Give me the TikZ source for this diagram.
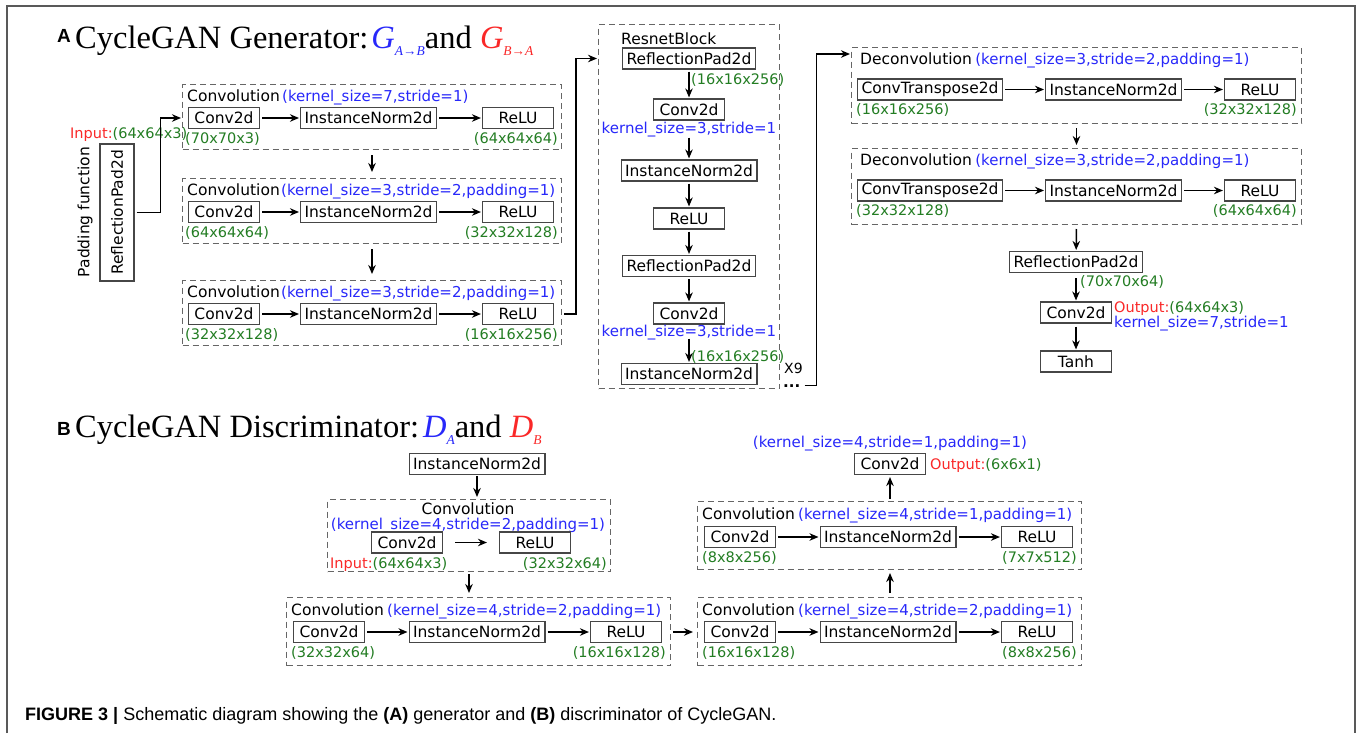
\documentclass[tikz,border=0pt]{standalone}
\usepackage{fontspec}
\setmainfont{DejaVu Sans}
\newfontfamily\ttlfont{Liberation Serif}
\newfontfamily\capfont{Liberation Sans}
\usepackage{tikz}
\usetikzlibrary{positioning, arrows.meta}
\definecolor{hpblue}{RGB}{40,40,250}
\definecolor{dimgreen}{RGB}{35,125,35}
\definecolor{iored}{RGB}{250,40,40}
\definecolor{edgegray}{RGB}{70,70,70}
\tikzset{
    layer/.style    = {draw=edgegray, line width=1.1pt, font=\fontsize{15.5}{17}\selectfont,
                       inner xsep=4pt, inner ysep=0pt, minimum height=21pt},
    sqlayer/.style  = {layer, minimum width=71pt},
    stage/.style    = {draw=black!60, line width=1pt, dash pattern=on 6pt off 4pt,
                       inner sep=0pt, anchor=north west},
    stagelbl/.style = {font=\fontsize{15.5}{17}\selectfont, inner sep=0pt},
    hparam/.style   = {text=hpblue, font=\fontsize{15}{16}\selectfont, inner sep=0pt},
    dims/.style     = {text=dimgreen, font=\fontsize{14.5}{16}\selectfont, inner sep=0pt},
    flow/.style     = {-{Stealth[length=9pt, width=7.5pt]}, line width=1.5pt,
                       shorten <=2pt, shorten >=1pt},
    heading/.style  = {font=\ttlfont\fontsize{32.5}{34}\selectfont, inner sep=0pt, anchor=base west},
    panel/.style    = {font=\capfont\bfseries\fontsize{19}{20}\selectfont, inner sep=0pt, anchor=base west},
}

\begin{document}
\begin{tikzpicture}[x=1pt, y=-1pt]
\fill[white] (0,0) rectangle (1361,733);
\draw[line width=1.3pt, black!65] (7,733) -- (7,6) -- (1355,6) -- (1355,733);

% ---- (A) generator
\node[panel] (pA) at (57,42) {A};
\node[heading] (hA) at (75,48) {CycleGAN Generator:\hspace{3pt}{\color{hpblue}\itshape G\raisebox{-7pt}{\fontsize{13.5}{13}\selectfont A→B}}and
    {\color{iored}\itshape G\raisebox{-7pt}{\fontsize{13.5}{13}\selectfont B→A}}};

\node[stagelbl, rotate=90] (padtxt) at (85,212) {Padding function};
\node[layer, rotate=90, minimum width=137pt, minimum height=34pt] (pad) at (117,212.5) {ReflectionPad2d};
\node[dims, anchor=base west] (gin) at (70,138) {\textcolor{iored}{Input:}(64x64x3)};

\node[stage, minimum width=379pt, minimum height=65pt] (gc1) at (182,84) {};
\node[stagelbl, anchor=base west] (gc1t) at (187,101) {Convolution};
\node[hparam, anchor=base west] (gc1k) at ([xshift=2pt]gc1t.base east) {(kernel\_size=7,stride=1)};
\node[sqlayer] (gc1a) at (224,118) {Conv2d};
\node[layer] (gc1b) at (368.5,118) {InstanceNorm2d};
\node[sqlayer] (gc1c) at (518,118) {ReLU};
\node[dims, anchor=base west] (gc1i) at (185,143) {(70x70x3)};
\node[dims, anchor=base east] (gc1o) at (558,143) {(64x64x64)};

\node[stage, minimum width=379pt, minimum height=65pt] (gc2) at (182,178) {};
\node[stagelbl, anchor=base west] (gc2t) at (187,195) {Convolution};
\node[hparam, anchor=base west] (gc2k) at ([xshift=1pt]gc2t.base east) {(kernel\_size=3,stride=2,padding=1)};
\node[sqlayer] (gc2a) at (224,212) {Conv2d};
\node[layer] (gc2b) at (368.5,212) {InstanceNorm2d};
\node[sqlayer] (gc2c) at (518,212) {ReLU};
\node[dims, anchor=base west] (gc2i) at (185,237) {(64x64x64)};
\node[dims, anchor=base east] (gc2o) at (558,237) {(32x32x128)};

\node[stage, minimum width=379pt, minimum height=65pt] (gc3) at (182,280) {};
\node[stagelbl, anchor=base west] (gc3t) at (187,297) {Convolution};
\node[hparam, anchor=base west] (gc3k) at ([xshift=1pt]gc3t.base east) {(kernel\_size=3,stride=2,padding=1)};
\node[sqlayer] (gc3a) at (224,314) {Conv2d};
\node[layer] (gc3b) at (368.5,314) {InstanceNorm2d};
\node[sqlayer] (gc3c) at (518,314) {ReLU};
\node[dims, anchor=base west] (gc3i) at (185,339) {(32x32x128)};
\node[dims, anchor=base east] (gc3o) at (558,339) {(16x16x256)};

\draw[flow] (pad.south) -- ++(26,0) |- (gc1a -| gc1.west);
\draw[flow, shorten <=5pt, shorten >=6pt] (gc1.south) -- (gc2.north);
\draw[flow, shorten <=5pt, shorten >=6pt] (gc2.south) -- (gc3.north);
\draw[flow] (gc1a) -- (gc1b);
\draw[flow] (gc1b) -- (gc1c);
\draw[flow] (gc2a) -- (gc2b);
\draw[flow] (gc2b) -- (gc2c);
\draw[flow] (gc3a) -- (gc3b);
\draw[flow] (gc3b) -- (gc3c);

% resnet block
\node[stage, minimum width=181pt, minimum height=364pt] (res) at (598,24) {};
\node[stagelbl, anchor=base west] (rest) at (621,44) {ResnetBlock};
\node[layer] (rb1) at (689,58.5) {ReflectionPad2d};
\node[sqlayer] (rb2) at (689,109.5) {Conv2d};
\node[layer] (rb3) at (689,170.5) {InstanceNorm2d};
\node[sqlayer] (rb4) at (689,218.5) {ReLU};
\node[layer] (rb5) at (689,266) {ReflectionPad2d};
\node[sqlayer] (rb6) at (689,313.5) {Conv2d};
\node[layer] (rb7) at (689,374) {InstanceNorm2d};
\node[dims, anchor=base west] (rb1o) at (691,84) {(16x16x256)};
\node[hparam, anchor=base] (rb2k) at (689,133) {kernel\_size=3,stride=1};
\node[hparam, anchor=base] (rb6k) at (689,336) {kernel\_size=3,stride=1};
\node[dims, anchor=base west] (rb6o) at (691,361) {(16x16x256)};
\node[font=\fontsize{14}{16}\selectfont, inner sep=0pt, anchor=base west] (rep) at (784,373) {X9};
\node[font=\bfseries\fontsize{15}{15}\selectfont, inner sep=0pt, anchor=base west] (dots) at (783,387) {...};

\draw[flow] (gc3c -| gc3.east) -- ++(14,0) |- (rb1 -| res.west);
\draw[flow] (rb1) -- (rb2);
\draw[flow, shorten <=17pt] (rb2) -- (rb3);
\draw[flow] (rb3) -- (rb4);
\draw[flow] (rb4) -- (rb5);
\draw[flow] (rb5) -- (rb6);
\draw[flow, shorten <=14pt] (rb6) -- (rb7);

% deconvolution
\node[stage, minimum width=450pt, minimum height=76pt] (dc1) at (851,47) {};
\node[stagelbl, anchor=base west] (dc1t) at (860,64) {Deconvolution};
\node[hparam, anchor=base west] (dc1k) at ([xshift=3pt]dc1t.base east) {(kernel\_size=3,stride=2,padding=1)};
\node[layer] (dc1a) at (930,89.5) {ConvTranspose2d};
\node[layer] (dc1b) at (1113.5,89.5) {InstanceNorm2d};
\node[sqlayer] (dc1c) at (1260,89.5) {ReLU};
\node[dims, anchor=base west] (dc1i) at (856,114) {(16x16x256)};
\node[dims, anchor=base east] (dc1o) at (1297,114) {(32x32x128)};

\node[stage, minimum width=450pt, minimum height=76pt] (dc2) at (851,148) {};
\node[stagelbl, anchor=base west] (dc2t) at (860,165) {Deconvolution};
\node[hparam, anchor=base west] (dc2k) at ([xshift=3pt]dc2t.base east) {(kernel\_size=3,stride=2,padding=1)};
\node[layer] (dc2a) at (930,190.5) {ConvTranspose2d};
\node[layer] (dc2b) at (1113.5,190.5) {InstanceNorm2d};
\node[sqlayer] (dc2c) at (1260,190.5) {ReLU};
\node[dims, anchor=base west] (dc2i) at (856,215) {(32x32x128)};
\node[dims, anchor=base east] (dc2o) at (1297,215) {(64x64x64)};

\node[layer] (orp) at (1076,262) {ReflectionPad2d};
\node[sqlayer] (ocv) at (1076,312.5) {Conv2d};
\node[sqlayer] (otanh) at (1076,361.5) {Tanh};
\node[dims, anchor=base west] (orpo) at (1080,286) {(70x70x64)};
\node[dims, anchor=base west] (gout) at (1114,312) {\textcolor{iored}{Output:}(64x64x3)};
\node[hparam, anchor=base west] (ocvk) at (1114,327) {kernel\_size=7,stride=1};

\draw[flow, shorten <=4pt] (dots.east) -- ++(16,0) |- ([yshift=-7pt]dc1.north west);
\draw[flow, shorten <=4pt, shorten >=3pt] (dc1.south) -- (dc2.north);
\draw[flow, shorten <=4pt] (dc2.south) -- (orp);
\draw[flow, shorten <=5pt] (orp) -- (ocv);
\draw[flow, shorten <=3pt] (ocv) -- (otanh);
\draw[flow] (dc1a) -- (dc1b);
\draw[flow] (dc1b) -- (dc1c);
\draw[flow] (dc2a) -- (dc2b);
\draw[flow] (dc2b) -- (dc2c);

% ---- (B) discriminator
\node[panel] (pB) at (57,435) {B};
\node[heading] (hB) at (75,437) {CycleGAN Discriminator:\hspace{4pt}{\color{hpblue}\itshape D\raisebox{-7pt}{\fontsize{13.5}{13}\selectfont A}}and
    {\color{iored}\itshape D\raisebox{-7pt}{\fontsize{13.5}{13}\selectfont B}}};

\node[layer] (dnorm) at (477,464) {InstanceNorm2d};
\node[stage, minimum width=283pt, minimum height=72pt] (dd0) at (327,499) {};
\node[stagelbl, anchor=base] (dd0t) at (468,514) {Convolution};
\node[hparam, anchor=base] (dd0k) at (468,529) {(kernel\_size=4,stride=2,padding=1)};
\node[sqlayer] (dd0a) at (407,542.5) {Conv2d};
\node[sqlayer] (dd0b) at (535,542.5) {ReLU};
\node[dims, anchor=base west] (din) at (330,568) {\textcolor{iored}{Input:}(64x64x3)};
\node[dims, anchor=base east] (dd0o) at (607,568) {(32x32x64)};

\node[stage, minimum width=384pt, minimum height=68pt] (dd1) at (286,597) {};
\node[stagelbl, anchor=base west] (dd1t) at (291,615) {Convolution};
\node[hparam, anchor=base west] (dd1k) at ([xshift=3pt]dd1t.base east) {(kernel\_size=4,stride=2,padding=1)};
\node[sqlayer] (dd1a) at (329,632) {Conv2d};
\node[layer] (dd1b) at (477,632) {InstanceNorm2d};
\node[sqlayer] (dd1c) at (626,632) {ReLU};
\node[dims, anchor=base west] (dd1i) at (291,657) {(32x32x64)};
\node[dims, anchor=base east] (dd1o) at (666,657) {(16x16x128)};

\node[stage, minimum width=384pt, minimum height=68pt] (dd2) at (697,597) {};
\node[stagelbl, anchor=base west] (dd2t) at (702,615) {Convolution};
\node[hparam, anchor=base west] (dd2k) at ([xshift=3pt]dd2t.base east) {(kernel\_size=4,stride=2,padding=1)};
\node[sqlayer] (dd2a) at (740,632) {Conv2d};
\node[layer] (dd2b) at (888,632) {InstanceNorm2d};
\node[sqlayer] (dd2c) at (1037,632) {ReLU};
\node[dims, anchor=base west] (dd2i) at (702,657) {(16x16x128)};
\node[dims, anchor=base east] (dd2o) at (1077,657) {(8x8x256)};

\node[stage, minimum width=384pt, minimum height=68pt] (dd3) at (697,501) {};
\node[stagelbl, anchor=base west] (dd3t) at (702,519) {Convolution};
\node[hparam, anchor=base west] (dd3k) at ([xshift=3pt]dd3t.base east) {(kernel\_size=4,stride=1,padding=1)};
\node[sqlayer] (dd3a) at (740,537) {Conv2d};
\node[layer] (dd3b) at (888,537) {InstanceNorm2d};
\node[sqlayer] (dd3c) at (1037,537) {ReLU};
\node[dims, anchor=base west] (dd3i) at (702,562) {(8x8x256)};
\node[dims, anchor=base east] (dd3o) at (1077,562) {(7x7x512)};

\node[sqlayer] (dout) at (890,464) {Conv2d};
\node[hparam, anchor=base] (doutk) at (890,447) {(kernel\_size=4,stride=1,padding=1)};
\node[dims, anchor=base west] (doutv) at (930,469) {\textcolor{iored}{Output:}(6x6x1)};

\draw[flow, shorten <=1pt, shorten >=2pt] (dnorm.south) -- (dnorm.south |- dd0.north);
\draw[flow, shorten <=12pt, shorten >=12pt] (dd0a) -- (dd0b);
\draw[flow, shorten <=2pt, shorten >=4pt] (dd0.south) -- (dd0.south |- dd1.north);
\draw[flow] (dd1a) -- (dd1b);
\draw[flow] (dd1b) -- (dd1c);
\draw[flow, shorten >=4pt] (dd1c -| dd1.east) -- (dd2a -| dd2.west);
\draw[flow] (dd2a) -- (dd2b);
\draw[flow] (dd2b) -- (dd2c);
\draw[flow, shorten <=4pt, shorten >=3pt] (dd2.north -| dout) -- (dd3.south -| dout);
\draw[flow] (dd3a) -- (dd3b);
\draw[flow] (dd3b) -- (dd3c);
\draw[flow, shorten <=2pt, shorten >=2pt] (dd3.north -| dout) -- (dout);

% caption
\node[font=\capfont\fontsize{18}{20}\selectfont, inner sep=0pt, anchor=base west] (cap) at (25,720)
    {\textbf{FIGURE 3 |} Schematic diagram showing the \textbf{(A)} generator and \textbf{(B)} discriminator of CycleGAN.};

\end{tikzpicture}
\end{document}
